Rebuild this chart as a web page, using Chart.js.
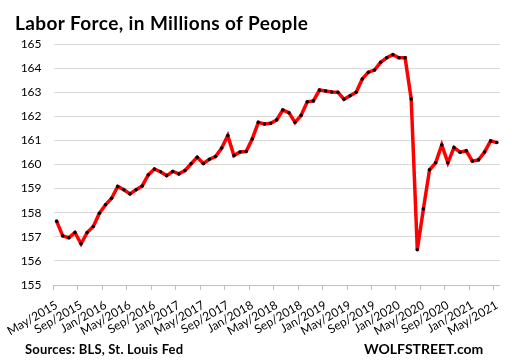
<!DOCTYPE html>
<html><head><meta charset="utf-8">
<script src="https://cdn.jsdelivr.net/npm/chart.js@4"></script>
<style>
html,body{margin:0;padding:0;background:#fff;}
#wrap{position:relative;width:512px;height:361px;overflow:hidden;}
canvas{position:absolute;left:0;top:0;}
.t{position:absolute;font-family:Lato, sans-serif;font-weight:bold;color:#000;white-space:nowrap;line-height:1;}
</style></head><body>
<div id="wrap">
<canvas id="c" width="512" height="361"></canvas>
<div class="t" style="left:15px;top:13px;font-size:19px;letter-spacing:0.4px;">Labor Force, in Millions of People</div>
<div class="t" style="left:25px;top:343px;font-size:13px;letter-spacing:0.2px;">Sources: BLS, St. Louis Fed</div>
<div class="t" style="left:364px;top:342px;font-size:14px;">WOLFSTREET.com</div>
</div>
<script>
const categories = [
 "May/2015","Jun/2015","Jul/2015","Aug/2015","Sep/2015","Oct/2015","Nov/2015","Dec/2015",
 "Jan/2016","Feb/2016","Mar/2016","Apr/2016","May/2016","Jun/2016","Jul/2016","Aug/2016","Sep/2016","Oct/2016","Nov/2016","Dec/2016",
 "Jan/2017","Feb/2017","Mar/2017","Apr/2017","May/2017","Jun/2017","Jul/2017","Aug/2017","Sep/2017","Oct/2017","Nov/2017","Dec/2017",
 "Jan/2018","Feb/2018","Mar/2018","Apr/2018","May/2018","Jun/2018","Jul/2018","Aug/2018","Sep/2018","Oct/2018","Nov/2018","Dec/2018",
 "Jan/2019","Feb/2019","Mar/2019","Apr/2019","May/2019","Jun/2019","Jul/2019","Aug/2019","Sep/2019","Oct/2019","Nov/2019","Dec/2019",
 "Jan/2020","Feb/2020","Mar/2020","Apr/2020","May/2020","Jun/2020","Jul/2020","Aug/2020","Sep/2020","Oct/2020","Nov/2020","Dec/2020",
 "Jan/2021","Feb/2021","Mar/2021","Apr/2021","May/2021"
];
const laborForce = [
 157.65,157.04,156.96,157.18,156.71,157.18,157.43,157.98,
 158.33,158.60,159.09,158.95,158.78,158.95,159.11,159.57,159.81,159.70,159.54,159.71,
 159.61,159.75,160.03,160.30,160.04,160.22,160.33,160.68,161.20,160.37,160.52,160.54,
 161.06,161.75,161.68,161.71,161.85,162.26,162.15,161.75,162.04,162.60,162.64,163.09,
 163.05,163.01,163.00,162.71,162.85,163.00,163.55,163.83,163.92,164.24,164.43,164.56,
 164.43,164.43,162.72,156.46,158.16,159.78,160.07,160.81,160.07,160.70,160.51,160.57,
 160.14,160.19,160.52,160.98,160.91
];
const tickLabels = ["May/2015","Sep/2015","Jan/2016","May/2016","Sep/2016","Jan/2017","May/2017",
 "Sep/2017","Jan/2018","May/2018","Sep/2018","Jan/2019","May/2019","Sep/2019","Jan/2020",
 "May/2020","Sep/2020","Jan/2021","May/2021"];
const yTicks = [155,156,157,158,159,160,161,162,163,164,165];

const tickFont = {family:"Lato, sans-serif", size:12};
new Chart(document.getElementById('c'), {
  type:'line',
  data:{labels:categories, datasets:[{
    data:laborForce, borderColor:'#ff0000', borderWidth:3.5, tension:0,
    pointRadius:1.8, pointBackgroundColor:'#000', pointBorderColor:'#000', pointBorderWidth:0
  }]},
  options:{
    responsive:false, animation:false, devicePixelRatio:1,
    layout:{padding:{top:44,left:0,right:5.5,bottom:16}},
    plugins:{legend:{display:false}, tooltip:{enabled:false}},
    scales:{
      x:{type:'category', offset:true,
        grid:{offset:true, drawOnChartArea:false, drawTicks:true, tickLength:5,
          color:(ctx)=> (ctx.index%4===0 ? '#bfbfbf' : 'rgba(0,0,0,0)')},
        border:{color:'#bfbfbf'},
        ticks:{autoSkip:false, minRotation:30, maxRotation:30, padding:8, font:tickFont, color:'#000',
          callback:(v,i)=> (i%4===0 ? tickLabels[i/4] : '')},
        afterFit:(s)=>{s.height=60;}
      },
      y:{min:yTicks[0], max:yTicks[yTicks.length-1],
        afterBuildTicks:(s)=>{s.ticks = yTicks.map(v=>({value:v}));},
        grid:{color:'#d9d9d9', drawTicks:false}, border:{display:false},
        ticks:{padding:12, font:tickFont, color:'#000'},
        afterFit:(s)=>{s.width=49;}
      }
    }
  }
});
</script>
</body></html>
